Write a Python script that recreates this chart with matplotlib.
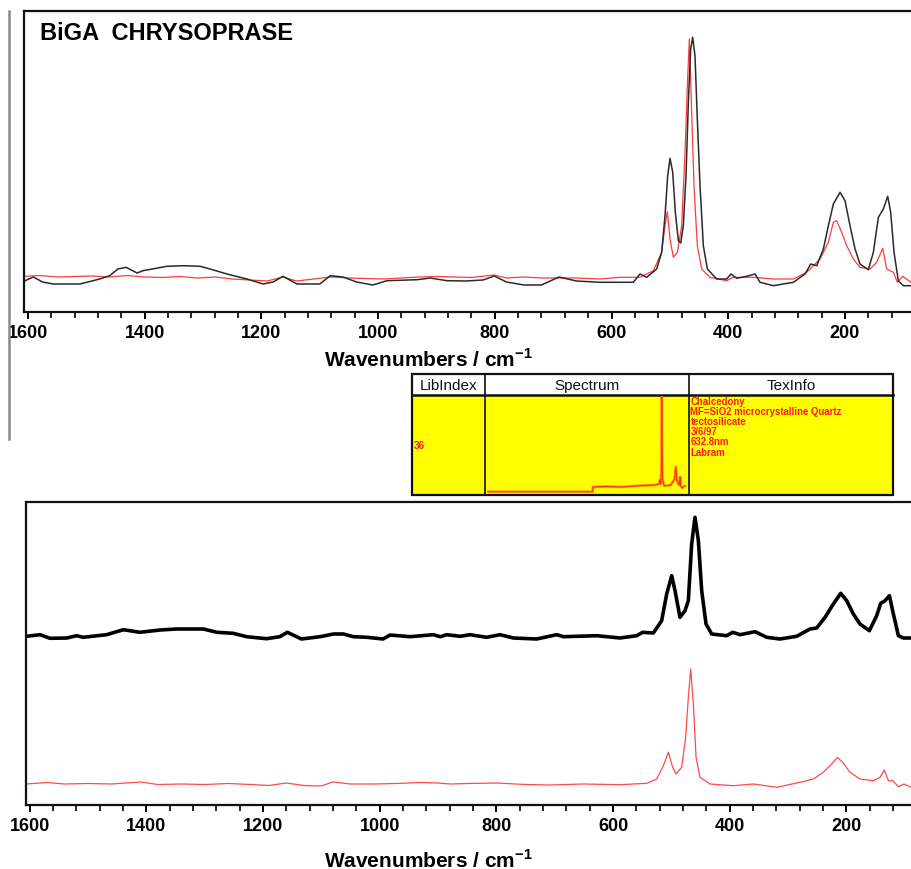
import matplotlib
matplotlib.use("Agg")
import matplotlib.pyplot as plt
from matplotlib.ticker import MultipleLocator
from matplotlib.patches import Rectangle
from matplotlib.lines import Line2D

plt.rcParams['font.family'] = ['Liberation Sans', 'DejaVu Sans']
plt.rcParams['mathtext.fontset'] = 'custom'
plt.rcParams['mathtext.rm'] = 'Liberation Sans'
plt.rcParams['mathtext.bf'] = 'Liberation Sans:bold'

# ---------------- data ----------------
top_black_wn = [1605, 1591, 1575, 1557, 1511, 1477, 1460, 1446, 1432, 1413, 1403, 1362, 1334, 1305,
                1288, 1259, 1225, 1197, 1180, 1163, 1139, 1100, 1082, 1060, 1037, 1009, 985, 933,
                911, 882, 850, 820, 801, 780, 750, 720, 690, 660, 620, 585.4, 562.6, 551.1, 539.7,
                522.6, 514, 508.3, 503.7, 499.7, 495.1, 490.6, 485.4, 481.4, 476.9, 472.3, 468.3,
                464.3, 460.9, 456.9, 452.9, 448.3, 442.6, 435.7, 419.7, 402.6, 395.2, 385.5, 368.3,
                354, 345.4, 322.6, 288.3, 268.3, 258.6, 248.3, 236.9, 228.3, 219.8, 208.3, 199.8,
                191.2, 182.6, 174.1, 159.8, 151.2, 142.6, 134.1, 126.6, 121.5, 115.8, 108.4, 99.8,
                86.6]
top_black_int = [31.3, 35, 30, 28, 28, 33, 36.3, 43, 44.7, 39, 41.3, 45.7, 46.3, 45.7,
                 43, 38, 33, 28, 30, 35.7, 28, 28, 36.3, 35, 30, 27, 31.3, 32.3,
                 34, 31.3, 31, 32, 36, 30, 27, 27, 35, 31, 29.7, 29.7, 29.7, 38, 34.7,
                 43, 59.7, 96.3, 136.3, 153.7, 139.7, 99.7, 71.3, 69, 86.3, 136.3, 209.7,
                 263, 274.7, 256.3, 193, 126.3, 66.3, 43, 33, 33, 38, 33.7, 35.7,
                 38, 29.7, 26.3, 29.7, 38, 48, 46.3, 63, 86.3, 108, 119.7, 111.3,
                 86.3, 63, 48, 42.3, 59.7, 94.7, 103, 115.7, 99.7, 59.7, 31.3, 26.3,
                 26.3]

top_red_wn = [1605, 1580, 1550, 1520, 1490, 1460, 1430, 1400, 1370, 1340, 1310, 1280, 1250, 1220,
              1190, 1163, 1140, 1110, 1080, 1050, 1020, 990, 960, 930, 900, 870, 840, 801, 780,
              750, 720, 690, 660, 620, 585.4, 551, 528.3, 514, 508.3, 504.3, 499.7, 494, 487.1,
              479.7, 474, 470, 466.6, 463.1, 458.6, 452.9, 445.5, 431.2, 402.6, 391.2, 356.9,
              322.6, 288.3, 265.5, 242.6, 228.3, 219.8, 214.1, 205.5, 196.9, 185.5, 174.1, 157,
              145.5, 135.2, 128.4, 116.9, 110.1, 100.9, 86.6]
top_red_int = [35.7, 36.5, 35, 35.5, 36, 35, 36.5, 35, 34.5, 35.5, 34, 35, 33, 32,
               31, 35, 31, 33, 35, 34, 33.5, 33, 34, 35, 35.5, 35, 34.5, 37, 34,
               35, 34, 34, 34, 33, 34.7, 34.7, 41.3, 59.7, 86.3, 100.3, 73, 54.7, 59.7,
               86.3, 159.7, 226.3, 273, 209.7, 126.3, 66.3, 43, 34.7, 31.3, 34.7, 34.7,
               33, 33, 39.7, 53, 69.7, 89.7, 91.3, 79.7, 66.3, 53, 44.7, 43,
               49.7, 63.7, 43, 39.7, 29.7, 35.7, 29.7]

low_black_wn = [1605, 1582, 1565, 1536, 1519, 1508, 1468, 1439, 1411, 1376, 1348, 1302, 1279, 1251,
                1228, 1194, 1171, 1158, 1134, 1102, 1079, 1062, 1045, 1022, 994, 982, 948, 908,
                896, 885, 862, 845, 816.5, 793.6, 770.8, 730.8, 696.5, 685, 628, 588, 559.4,
                549.2, 530.9, 516.6, 508, 499.4, 493.7, 485.2, 476.6, 470.9, 465.2, 459.5, 453.7,
                448, 440.6, 430.9, 405.2, 394.9, 382.3, 356.6, 336.6, 313.8, 285.2, 262.4, 250.9,
                236.6, 222.4, 209.8, 199.5, 188.1, 176.7, 160.7, 148.1, 141.2, 133.8, 126.3, 119.5,
                110.9, 102.4, 89.2]
low_black_int = [168.7, 170.3, 166.7, 167, 169.3, 167.7, 170.3, 175.3, 172.7, 175, 176, 176, 172.7, 171.7,
                 168.3, 166.3, 168.3, 172.7, 166, 168.3, 171, 171, 168.3, 167.7, 166, 170, 168.3, 170.3,
                 168.3, 170.3, 168.7, 170.3, 167.7, 170.3, 167, 166, 170.3, 168.3, 169.3, 167, 169.3,
                 172.7, 172, 184.3, 211, 229.3, 214.3, 187.7, 194.3, 204.3, 261, 287.7, 264.3,
                 214.3, 181, 171, 169.3, 172.7, 170.3, 173.3, 167.7, 166, 168.7, 176, 177,
                 187.7, 201, 211.7, 204.3, 191, 181, 174.3, 189.3, 201.7, 204.3, 209.3, 191,
                 169.3, 167, 167]

low_red_wn = [1605, 1570, 1540, 1500, 1460, 1410, 1380, 1340, 1300, 1260, 1220, 1190, 1160, 1130,
              1100, 1080, 1050, 1010, 970, 930, 900, 879, 850, 799, 750, 708, 650, 588, 542.3,
              525.2, 513.7, 505.2, 497.7, 492, 482.3, 475.5, 470.9, 466.9, 462.3, 457.7, 450.9,
              433.8, 393.8, 359.5, 319.5, 279.5, 256.6, 239.5, 225.2, 215.5, 206.4, 193.8, 176.7,
              153.8, 142.4, 135, 128.1, 120.7, 110.9, 101.3, 89.2]
low_red_int = [21, 22.5, 21, 21.5, 21, 23, 20.5, 21, 20.5, 21.5, 20.5, 19.5, 22, 19.5,
               19, 23, 21, 21, 21.5, 22.5, 22, 21, 21.5, 22, 20.5, 20, 21, 20.3, 21.7,
               26, 39.3, 52.7, 37.7, 31, 37.7, 67.7, 107.7, 136, 101, 47.7, 27.7,
               21, 19.3, 21, 17.7, 22.7, 26, 32.7, 41, 47.7, 42.7, 32.7, 26,
               24.3, 27.7, 35, 24.3, 24.3, 18.3, 21, 17.7]

lib_wn = [3680, 1745, 1740, 1500, 1200, 1000, 800, 600, 520, 500, 490, 475, 468, 465, 461,
          455, 420, 300, 230, 206, 190, 150, 135, 128, 118, 90, 40]
lib_int = [2.3, 2.3, 7, 7.5, 7, 8, 8.5, 9, 10, 14, 10, 20, 60, 97, 50,
           15, 8, 9, 15, 27, 14, 9, 12, 17, 8, 6, 8]

major_ticks = [1600, 1400, 1200, 1000, 800, 600, 400, 200]
tick_labels = ["1600", "1400", "1200", "1000", "800", "600", "400", "200"]
title_text = "BiGA  CHRYSOPRASE"
xlabel_text = r"Wavenumbers / cm$^{\mathbf{-1}}$"
headers = ["LibIndex", "Spectrum", "TexInfo"]
lib_index = "36"
tex_info = ["Chalcedony", "MF=SiO2 microcrystalline Quartz", "tectosilicate",
            "3/6/97", "632.8nm", "Labram"]

# ---------------- figure ----------------
W, H = 911, 870
fig = plt.figure(figsize=(W / 100, H / 100), dpi=100)


def fx(px):
    return px / W


def fy(py):
    return 1 - py / H


def style_axes(ax, xlim, ylim):
    ax.set_xlim(*xlim)
    ax.set_ylim(*ylim)
    ax.spines['right'].set_visible(False)
    for s in ('left', 'top', 'bottom'):
        ax.spines[s].set_linewidth(1.6)
        ax.spines[s].set_color('#111111')
    ax.set_yticks([])
    ax.set_xticks(major_ticks)
    ax.set_xticklabels(tick_labels, fontsize=13, fontweight='bold')
    ax.xaxis.set_minor_locator(MultipleLocator(40))
    ax.tick_params(axis='x', which='major', direction='out', length=5, width=1.4, pad=4)
    ax.tick_params(axis='x', which='minor', direction='out', length=4.5, width=1.2)


# top panel
ax1 = fig.add_axes([fx(24), fy(313), fx(911 - 24), (313 - 12) / H])
style_axes(ax1, (1606.9, 86.7), (0, 301))
ax1.plot(top_red_wn, top_red_int, color='#ff3b3b', lw=0.9)
ax1.plot(top_black_wn, top_black_int, color='#2a2a2a', lw=1.1)
ax1.text(0.018, 0.93, title_text, transform=ax1.transAxes, fontsize=17,
         fontweight='bold', ha='left', va='center')
fig.text(fx(428), fy(360), xlabel_text, fontsize=15, fontweight='bold',
         ha='center', va='center')

# lower panel
ax2 = fig.add_axes([fx(26), fy(806), fx(911 - 26), 303 / H])
style_axes(ax2, (1606, 89.3), (0, 303))
ax2.plot(low_black_wn, low_black_int, color='black', lw=2.6, solid_joinstyle='round')
ax2.plot(low_red_wn, low_red_int, color='#ff4a4a', lw=0.9)
fig.text(fx(428), fy(860), xlabel_text, fontsize=15, fontweight='bold',
         ha='center', va='center')

# gray vertical line on the left
fig.add_artist(Line2D([fx(9), fx(9)], [fy(12), fy(440)], color='#8a8a8a', lw=1.8))

# ---------------- library table ----------------
tx0, ty0, tx1, ty1 = 411.7, 375, 892.7, 496
axt = fig.add_axes([fx(tx0), fy(ty1), fx(tx1 - tx0), (ty1 - ty0) / H])
axt.set_xlim(0, tx1 - tx0)
axt.set_ylim(ty1 - ty0, 0)
axt.axis('off')
hdr = 21
c1, c2 = 485 - tx0, 689 - tx0
axt.add_patch(Rectangle((0, 0), tx1 - tx0, hdr, facecolor='white', edgecolor='none'))
axt.add_patch(Rectangle((0, hdr), tx1 - tx0, ty1 - ty0 - hdr, facecolor='#ffff00', edgecolor='none'))
axt.add_patch(Rectangle((0, 0), tx1 - tx0, ty1 - ty0, facecolor='none', edgecolor='#111111', lw=1.6,
                        clip_on=False))
axt.plot([0, tx1 - tx0], [hdr, hdr], color='#111111', lw=1.8, clip_on=False)
axt.plot([c1, c1], [0, ty1 - ty0], color='#111111', lw=1.2)
axt.plot([c2, c2], [0, ty1 - ty0], color='#111111', lw=1.2)
centers = [c1 / 2, (c1 + c2) / 2, (c2 + tx1 - tx0) / 2]
for cx, h in zip(centers, headers):
    axt.text(cx, hdr / 2 + 0.5, h, fontsize=11, ha='center', va='center', color='#111111')
axt.text(2, 446 - ty0, lib_index, fontsize=7.2, fontweight='bold', color='#ff1a1a',
         ha='left', va='center')
for i, line in enumerate(tex_info):
    axt.text(c2 + 1.5, 401.7 - ty0 + i * 10.2, line, fontsize=6.9, fontweight='bold',
             color='#ff1a1a', ha='left', va='center')

# thumbnail spectrum
axs = fig.add_axes([fx(487), fy(495), fx(687 - 487), (495 - 397) / H])
axs.set_xlim(3700, 0)
axs.set_ylim(0, 98)
axs.axis('off')
axs.plot(lib_wn, lib_int, color='#ff8c00', lw=1.8)
axs.plot(lib_wn, lib_int, color='#ff2020', lw=0.6)

fig.savefig('out.png', dpi=100)
